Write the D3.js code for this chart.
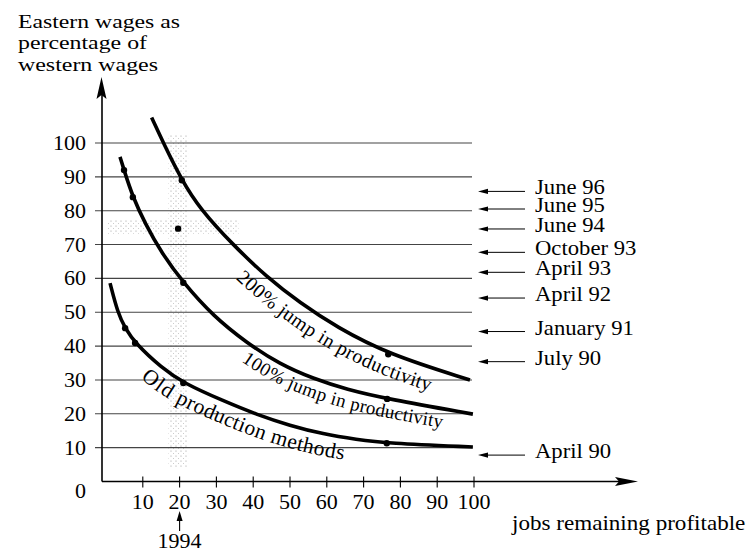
<!DOCTYPE html>
<html>
<head>
<meta charset="utf-8">
<script src="https://cdn.jsdelivr.net/npm/d3@7"></script>
<style>
  body { margin: 0; background: #fff; }
  text { font-family: "Liberation Serif", "Times New Roman", serif; fill: #000; }
</style>
</head>
<body>
<div id="chart"></div>
<script>
// values (jobs remaining profitable, eastern wage as % of western)
var jobsOld  = [1.1, 3.2, 5.2, 7.9, 15.2, 21, 31.9, 40.9, 50, 59, 68.1, 76.3, 99.7];
var wageOld  = [58.6, 49.8, 45.3, 40.9, 33.5, 29.1, 23.8, 19.8, 16.5, 14.0, 12.4, 11.3, 10.2];
var jobs100  = [3.8, 4.9, 7.3, 10.6, 15.1, 21, 29.2, 38.2, 47.3, 56.3, 65.4, 76.4, 99.7];
var wage100  = [95.9, 92, 84, 76.3, 67.5, 58.7, 48.8, 41, 34.6, 30.4, 27.2, 24.4, 19.9];
var jobs200  = [12.4, 15.6, 20.6, 25.5, 34.6, 43.6, 52.7, 62.7, 76.7, 98.9];
var wage200  = [107.5, 100, 89, 80.6, 69.8, 60.5, 52.8, 45.6, 37.6, 30];

// marked points on the curves
var dotJobs = [5.2, 7.9, 21, 76.3, 4.9, 7.3, 21, 76.4, 20.6, 76.7, 19.6];
var dotWage = [45.3, 40.9, 29.1, 11.3, 92, 84, 58.7, 24.4, 89, 37.6, 74.7];

var curveNames = ["Old production methods", "100% jump in productivity", "200% jump in productivity"];

// dates on the right, pointing at wage levels
var dateLabels = ["June 96", "June 95", "June 94", "October 93", "April 93", "April 92", "January 91", "July 90", "April 90"];
var dateWages  = [85.7, 80.5, 74.6, 67.7, 61.8, 54.2, 44.3, 35.4, 7.8];

var xTicks = [10, 20, 30, 40, 50, 60, 70, 80, 90, 100];
var yTicks = [10, 20, 30, 40, 50, 60, 70, 80, 90, 100];

var titleLines = ["Eastern wages as", "percentage of", "western wages"];

var width = 752, height = 552;

var svg = d3.select("#chart")
  .append("svg")
    .attr("width", width)
    .attr("height", height);

var x = d3.scaleLinear().domain([0, 100]).range([106, 474]);
var y = d3.scaleLinear().domain([0, 100]).range([481.5, 143]);

// stipple pattern for the 1994 bands
var defs = svg.append("defs");
var pat = defs.append("pattern")
    .attr("id", "stipple")
    .attr("width", 5).attr("height", 5)
    .attr("patternUnits", "userSpaceOnUse");
pat.append("circle").attr("cx", 1).attr("cy", 1).attr("r", 0.6).attr("fill", "#999");
pat.append("circle").attr("cx", 3.5).attr("cy", 3.5).attr("r", 0.5).attr("fill", "#bbb");

svg.append("rect")
    .attr("x", x(17)).attr("y", y(102.4))
    .attr("width", x(22.3) - x(17)).attr("height", y(4.3) - y(102.4))
    .attr("fill", "url(#stipple)");
svg.append("rect")
    .attr("x", x(0.3)).attr("y", y(77.3))
    .attr("width", x(36) - x(0.3)).attr("height", y(73.2) - y(77.3))
    .attr("fill", "url(#stipple)");

// grid lines
svg.selectAll("line.grid")
  .data(yTicks)
  .enter()
  .append("line")
    .attr("class", "grid")
    .attr("x1", 95).attr("x2", x(100) - 2)
    .attr("y1", function(d) { return y(d); })
    .attr("y2", function(d) { return y(d); })
    .style("stroke", "#444")
    .style("stroke-width", 1.1);

// axes
svg.append("line")
    .attr("x1", 102).attr("x2", 102)
    .attr("y1", y(0)).attr("y2", 92)
    .style("stroke", "#000").style("stroke-width", 1.6);
svg.append("path")
    .attr("d", "M101.5,77 L106.5,99 L101.5,95 L96.5,99 Z")
    .attr("fill", "#000");

svg.append("line")
    .attr("x1", 102).attr("x2", 625)
    .attr("y1", y(0)).attr("y2", y(0))
    .style("stroke", "#000").style("stroke-width", 1.6);
svg.append("path")
    .attr("d", "M638," + y(0) + " L615," + (y(0) - 4.5) + " L619," + y(0) + " L615," + (y(0) + 4.5) + " Z")
    .attr("fill", "#000");

svg.selectAll("line.xtick")
  .data(xTicks)
  .enter()
  .append("line")
    .attr("class", "xtick")
    .attr("x1", function(d) { return x(d); })
    .attr("x2", function(d) { return x(d); })
    .attr("y1", y(0) - 5).attr("y2", y(0) + 6)
    .style("stroke", "#000").style("stroke-width", 1.1);

function label(px, py, s, anchor, size, sx) {
  return svg.append("text")
      .attr("transform", "translate(" + px + "," + py + ") scale(" + sx + ",1)")
      .attr("text-anchor", anchor)
      .attr("font-size", size)
      .text(s);
}

xTicks.forEach(function(d) { label(x(d), 509, d, "middle", 20, 1.1); });
yTicks.forEach(function(d) { label(86, y(d) + 7, d, "end", 20, 1.1); });
label(86, 498, "0", "end", 20, 1.1);

label(512, 530, "jobs remaining profitable", "start", 21, 1.1);

// 1994 marker under the 20 tick
label(x(20), 548, "1994", "middle", 20, 1.1);
svg.append("line")
    .attr("x1", x(20)).attr("x2", x(20))
    .attr("y1", 531).attr("y2", 518)
    .style("stroke", "#000").style("stroke-width", 1.1);
svg.append("path")
    .attr("d", "M" + x(20) + ",511 L" + (x(20) + 3) + ",521 L" + (x(20) - 3) + ",521 Z")
    .attr("fill", "#000");

// title
titleLines.forEach(function(s, i) {
  svg.append("text")
      .attr("x", 18).attr("y", 27.5 + i * 21.7)
      .attr("font-size", 19)
      .attr("textLength", [162, 129, 140][i])
      .attr("lengthAdjust", "spacingAndGlyphs")
      .text(s);
});

// curves
var line = d3.line()
    .x(function(d) { return x(d[0]); })
    .y(function(d) { return y(d[1]); })
    .curve(d3.curveBasis);

var curves = [d3.zip(jobsOld, wageOld), d3.zip(jobs100, wage100), d3.zip(jobs200, wage200)];
var curveIds = ["cOld", "c100", "c200"];

svg.selectAll("path.curve")
  .data(curves)
  .enter()
  .append("path")
    .attr("class", "curve")
    .attr("id", function(d, i) { return curveIds[i]; })
    .attr("d", line)
    .style("fill", "none")
    .style("stroke", "#000")
    .style("stroke-width", 3.6);

svg.selectAll("circle.dot")
  .data(d3.zip(dotJobs, dotWage))
  .enter()
  .append("circle")
    .attr("class", "dot")
    .attr("cx", function(d) { return x(d[0]); })
    .attr("cy", function(d) { return y(d[1]); })
    .attr("r", 3.2)
    .style("fill", "#000");

// curve labels along the curves
var labelStart = [13.2, 39.6, 39.4];
var labelDy = [22, 19, 23];
var labelSize = [21.5, 19, 20];

function lengthAtX(node, px) {
  var lo = 0, hi = node.getTotalLength();
  for (var k = 0; k < 40; k++) {
    var mid = (lo + hi) / 2;
    if (node.getPointAtLength(mid).x < px) lo = mid; else hi = mid;
  }
  return lo;
}

curveIds.forEach(function(id, i) {
  var node = document.getElementById(id);
  svg.append("text")
      .attr("font-size", labelSize[i])
    .append("textPath")
      .attr("href", "#" + id)
      .attr("startOffset", lengthAtX(node, x(labelStart[i])))
    .append("tspan")
      .attr("dy", labelDy[i])
      .text(curveNames[i]);
});

// date arrows on the right
dateLabels.forEach(function(s, i) {
  var yy = y(dateWages[i]);
  svg.append("line")
      .attr("x1", 484).attr("x2", 525)
      .attr("y1", yy).attr("y2", yy)
      .style("stroke", "#000").style("stroke-width", 1);
  svg.append("path")
      .attr("d", "M478," + yy + " L488," + (yy - 2.6) + " L488," + (yy + 2.6) + " Z")
      .attr("fill", "#000");
  label(535, yy + 3, s, "start", 21, 1.08);
});
</script>
</body>
</html>
